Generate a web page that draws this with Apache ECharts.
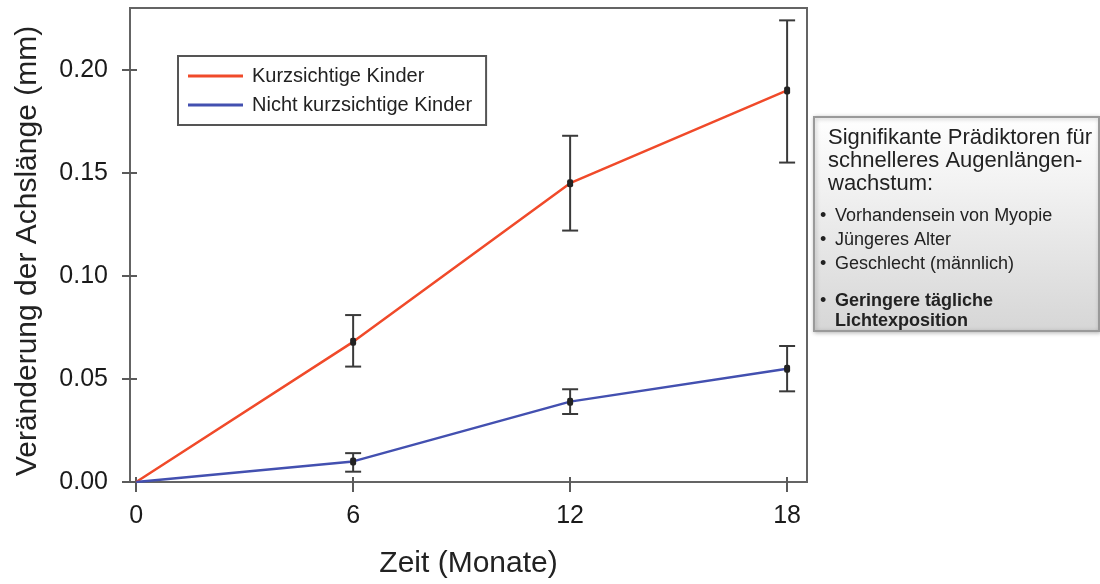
<!DOCTYPE html>
<html>
<head>
<meta charset="utf-8">
<script src="https://cdn.jsdelivr.net/npm/echarts@6/dist/echarts.min.js"></script>
<style>
  html, body { margin: 0; padding: 0; background: #fff; }
  #chart { width: 1100px; height: 584px; }
</style>
</head>
<body>
<div id="chart"></div>
<script>
// Zeitpunkte (Monate)
const months = [0, 6, 12, 18];
const monthTicks = [0, 6, 12, 18];
const valueTicks = [0, 0.05, 0.1, 0.15, 0.2];

// Kurzsichtige Kinder: Mittelwert und Fehlerbalken
const myopicMean = [0, 0.068, 0.145, 0.19];
const myopicLow = [null, 0.056, 0.122, 0.155];
const myopicHigh = [null, 0.081, 0.168, 0.224];

// Nicht kurzsichtige Kinder
const nonMyopicMean = [0, 0.01, 0.039, 0.055];
const nonMyopicLow = [null, 0.005, 0.033, 0.044];
const nonMyopicHigh = [null, 0.014, 0.045, 0.066];

const seriesNames = ["Kurzsichtige Kinder", "Nicht kurzsichtige Kinder"];
const predictorsTitle = "Signifikante Prädiktoren für\nschnelleres Augenlängen-\nwachstum:";
const predictors = ["Vorhandensein von Myopie", "Jüngeres Alter", "Geschlecht (männlich)"];
const predictorBold = "Geringere tägliche\nLichtexposition";

const FONT = '"Liberation Sans", Arial, Helvetica, sans-serif';

function toPairs(xs, ys) {
  return xs.map((x, i) => [x, ys[i]]);
}

function errorRows(xs, mean, low, high) {
  const rows = [];
  xs.forEach((x, i) => {
    if (low[i] != null) rows.push([x, low[i], high[i], mean[i]]);
  });
  return rows;
}

function renderErrorBar(params, api) {
  const x = api.value(0);
  const lo = api.coord([x, api.value(1)]);
  const hi = api.coord([x, api.value(2)]);
  const mid = api.coord([x, api.value(3)]);
  const cap = 8;
  const style = { stroke: "#3a3a3a", lineWidth: 2 };
  return {
    type: "group",
    children: [
      { type: "line", shape: { x1: lo[0], y1: lo[1], x2: hi[0], y2: hi[1] }, style: style },
      { type: "line", shape: { x1: hi[0] - cap, y1: hi[1], x2: hi[0] + cap, y2: hi[1] }, style: style },
      { type: "line", shape: { x1: lo[0] - cap, y1: lo[1], x2: lo[0] + cap, y2: lo[1] }, style: style },
      { type: "rect", shape: { x: mid[0] - 3, y: mid[1] - 4, width: 6, height: 8, r: 2 }, style: { fill: "#222" } },
    ],
  };
}

const chart = echarts.init(document.getElementById("chart"));

const axisGray = "#5a5a5a";

// axes sit a few px inside the frame so their ticks cross the frame line
const option = {
  backgroundColor: "#fff",
  animation: false,
  grid: {
    left: 130,
    right: 293,
    top: 8,
    bottom: 102,
    show: true,
    borderColor: "#646464",
    borderWidth: 2,
  },
  legend: {
    orient: "vertical",
    left: 178,
    top: 56,
    padding: [10, 14, 10, 10],
    itemGap: 9,
    itemWidth: 55,
    itemHeight: 3,
    icon: "rect",
    borderColor: "#555",
    borderWidth: 2,
    backgroundColor: "#fff",
    textStyle: { fontFamily: FONT, fontSize: 20, color: "#222", padding: [0, 0, 0, 4] },
    data: seriesNames,
  },
  xAxis: {
    type: "value",
    min: -0.17,
    max: 18.55,
    offset: -5,
    name: "Zeit (Monate)",
    nameLocation: "middle",
    nameGap: 72,
    nameTextStyle: { fontFamily: FONT, fontSize: 30, color: "#222" },
    splitLine: { show: false },
    axisLine: { show: false, onZero: false },
    axisTick: { customValues: monthTicks, length: 15, lineStyle: { color: axisGray, width: 2 } },
    axisLabel: { customValues: monthTicks, margin: 27, fontFamily: FONT, fontSize: 25, color: "#1a1a1a" },
  },
  yAxis: {
    type: "value",
    min: 0,
    max: 0.23,
    offset: -7,
    name: "Veränderung der Achslänge (mm)",
    nameLocation: "middle",
    nameGap: 94,
    nameTextStyle: { fontFamily: FONT, fontSize: 30, color: "#222", padding: [0, 0, 0, -12] },
    splitLine: { show: false },
    axisLine: { show: false, onZero: false },
    axisTick: { customValues: valueTicks, length: 15, lineStyle: { color: axisGray, width: 2 } },
    axisLabel: {
      customValues: valueTicks,
      margin: 29,
      fontFamily: FONT,
      fontSize: 25,
      color: "#1a1a1a",
      formatter: (v) => v.toFixed(2),
    },
  },
  series: [
    {
      name: seriesNames[0],
      type: "line",
      symbol: "none",
      color: "#f04a2a",
      lineStyle: { width: 2.5, color: "#f04a2a" },
      data: toPairs(months, myopicMean),
      z: 2,
    },
    {
      name: seriesNames[1],
      type: "line",
      symbol: "none",
      color: "#4350b0",
      lineStyle: { width: 2.5, color: "#4350b0" },
      data: toPairs(months, nonMyopicMean),
      z: 2,
    },
    {
      type: "custom",
      renderItem: renderErrorBar,
      data: errorRows(months, myopicMean, myopicLow, myopicHigh),
      z: 3,
    },
    {
      type: "custom",
      renderItem: renderErrorBar,
      data: errorRows(months, nonMyopicMean, nonMyopicLow, nonMyopicHigh),
      z: 3,
    },
  ],
  graphic: [
    {
      type: "group",
      left: 813,
      top: 116,
      children: [
        {
          type: "rect",
          shape: { x: 0, y: 0, width: 285, height: 214 },
          style: {
            fill: new echarts.graphic.LinearGradient(0, 0, 0, 1, [
              { offset: 0, color: "#ffffff" },
              { offset: 1, color: "#d6d6d6" },
            ]),
            stroke: "#9a9a9a",
            lineWidth: 2,
            shadowBlur: 4,
            shadowColor: "rgba(0,0,0,0.25)",
            shadowOffsetX: 1,
            shadowOffsetY: 1,
          },
        },
        {
          type: "text",
          x: 14,
          y: 9,
          style: { text: predictorsTitle, font: "22px " + FONT, fill: "#222", lineHeight: 23 },
        },
        {
          type: "text",
          x: 6,
          y: 87,
          style: { text: predictors.map(() => "•").join("\n"), font: "18px " + FONT, fill: "#222", lineHeight: 24 },
        },
        {
          type: "text",
          x: 21,
          y: 87,
          style: { text: predictors.join("\n"), font: "18px " + FONT, fill: "#222", lineHeight: 24 },
        },
        {
          type: "text",
          x: 6,
          y: 174,
          style: { text: "•", font: "18px " + FONT, fill: "#222", lineHeight: 20 },
        },
        {
          type: "text",
          x: 21,
          y: 174,
          style: { text: predictorBold, font: "bold 18px " + FONT, fill: "#222", lineHeight: 20 },
        },
      ],
    },
  ],
};

chart.setOption(option);
</script>
</body>
</html>
